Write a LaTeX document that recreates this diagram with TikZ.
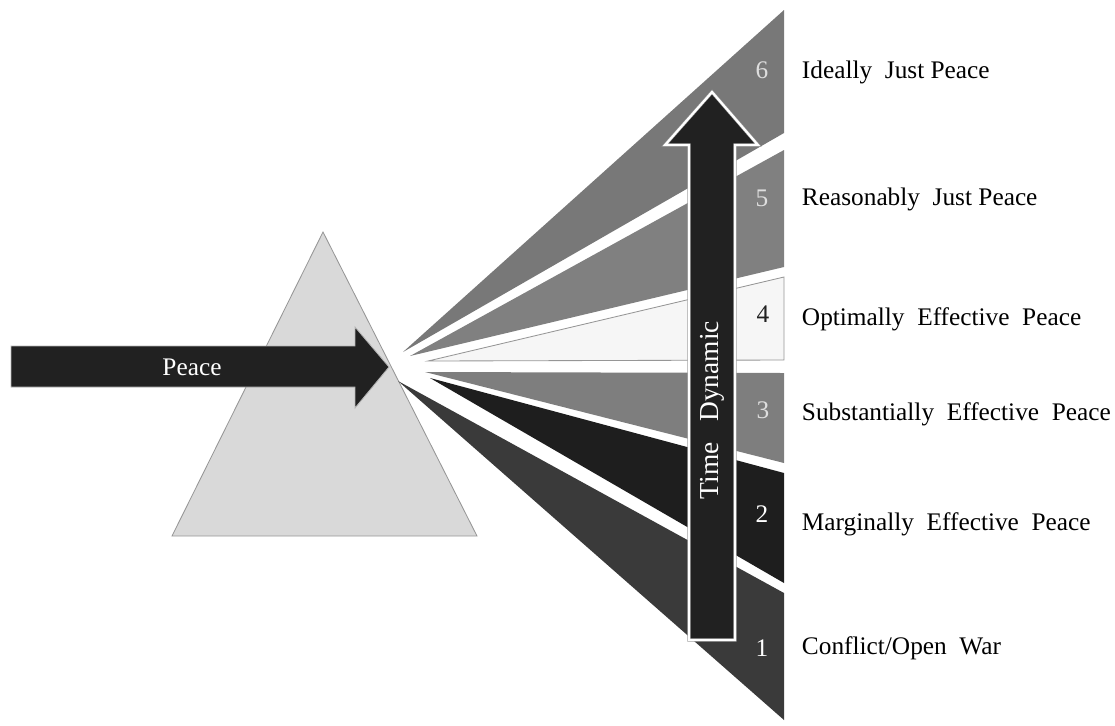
\documentclass[tikz,border=0pt]{standalone}
\usepackage{fontspec}
\setmainfont{Liberation Serif}
\usepackage{xcolor}
\definecolor{prismGray}{RGB}{217,217,217}
\definecolor{prismEdge}{RGB}{150,150,150}
\definecolor{arrowDark}{RGB}{33,33,33}
\definecolor{bandSix}{RGB}{120,120,120}
\definecolor{bandFive}{RGB}{128,128,128}
\definecolor{bandFour}{RGB}{246,246,246}
\definecolor{bandThree}{RGB}{126,126,126}
\definecolor{bandTwo}{RGB}{30,30,30}
\definecolor{bandOne}{RGB}{58,58,58}
\definecolor{numLight}{RGB}{222,222,222}

\begin{document}
\begin{tikzpicture}[x=0.025cm,y=-0.025cm,
  band/.style={fill=#1},
  numtext/.style={font=\fontsize{18}{20}\selectfont,text=#1},
  stagetext/.style={anchor=west,font=\fontsize{18}{20}\selectfont,text=black}]
\path[use as bounding box] (0,0) rectangle (1115,725);

% Prism
\draw[fill=prismGray,draw=prismEdge,line width=0.6pt] (323,232) -- (477,536) -- (172,536) -- cycle;

% Peace arrow entering the prism
\draw[fill=arrowDark,draw=prismEdge!70,line width=0.6pt] (11,346) -- (355,346) -- (355,327) -- (389,367) -- (355,408) -- (355,387) -- (11,387) -- cycle;
\node[text=white,font=\fontsize{18}{20}\selectfont] (peace) at (192,367) {Peace};

% Bands leaving the prism (1 = bottom, 6 = top)
\fill[band=bandSix] (403,352) -- (784,10) -- (784,133) -- cycle;
\fill[band=bandFive] (410,356) -- (784,150) -- (784,267) -- cycle;
\draw[band=bandFour,draw=prismEdge,line width=0.6pt] (428,361) -- (784,277) -- (784,360) -- cycle;
\fill[band=bandThree] (425,372) -- (784,373) -- (784,463) -- cycle;
\fill[band=bandTwo] (430,378) -- (784,473) -- (784,583) -- cycle;
\fill[band=bandOne] (398,381) -- (784,593) -- (784,720) -- cycle;

% Time Dynamic arrow
\draw[fill=arrowDark,draw=prismEdge,double=white,double distance=1.6pt,line width=0.4pt] (689,640) -- (689,145) -- (665,145) -- (712,92) -- (758,145) -- (735,145) -- (735,640) -- cycle;
\node[rotate=90,text=white,font=\fontsize{19.5}{21}\selectfont] (time) at (712,410) {Time\ \ \ Dynamic};

% Band numbers
\node[numtext=numLight] (n6) at (762,70) {6};
\node[numtext=numLight] (n5) at (762,198) {5};
\node[numtext=arrowDark] (n4) at (763,314) {4};
\node[numtext=numLight] (n3) at (763,410) {3};
\node[numtext=white] (n2) at (762,514) {2};
\node[numtext=white] (n1) at (762,648) {1};

% Band labels
\node[stagetext] (s6) at (797,72) {Ideally\ \ Just Peace};
\node[stagetext] (s5) at (797,199) {Reasonably\ \ Just Peace};
\node[stagetext] (s4) at (797,319) {Optimally\ \ Effective\ \ Peace};
\node[stagetext] (s3) at (797,414) {Substantially\ \ Effective\ \ Peace};
\node[stagetext] (s2) at (797,524) {Marginally\ \ Effective\ \ Peace};
\node[stagetext] (s1) at (797,648) {Conflict/Open\ \ War};
\end{tikzpicture}
\end{document}
